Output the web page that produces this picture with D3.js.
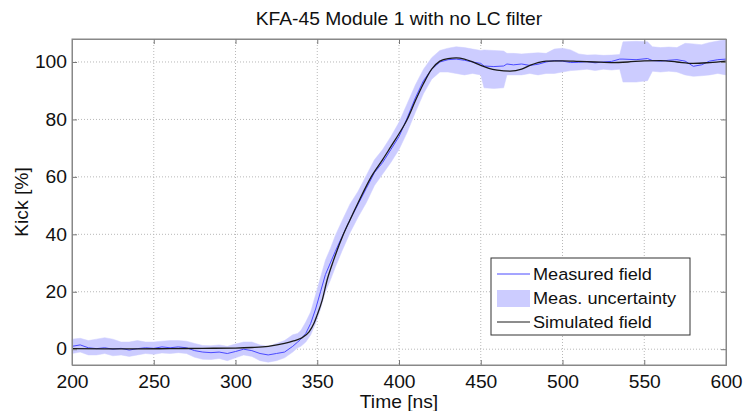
<!DOCTYPE html>
<html>
<head>
<meta charset="utf-8">
<script src="https://cdn.jsdelivr.net/npm/d3@7"></script>
<style>
  body { margin: 0; background: #fff; }
  text { font-family: "Liberation Sans", Arial, sans-serif; fill: #111; }
</style>
</head>
<body>
<script>
// simulated field (smooth)
const simT = [200, 220, 240, 260, 280, 300, 310, 320, 330, 335, 340, 345, 348, 350, 353, 356, 360, 366, 370, 375, 383, 390, 395, 400, 405, 410, 415, 420, 425, 430, 435, 440, 445, 450, 455, 460, 468, 475, 480, 485, 490, 500, 510, 520, 530, 540, 550, 560, 570, 580, 590, 600];
const simV = [0.2, 0.1, 0.1, 0.2, 0.3, 0.4, 0.6, 1.0, 2.0, 2.8, 3.8, 6, 9, 12, 17, 24, 31, 40, 45, 51, 60, 66, 70.5, 75, 80, 86.5, 92.5, 97.5, 100.3, 101.2, 101.4, 101, 100, 98.8, 97.8, 97.2, 96.8, 97.5, 98.8, 99.8, 100.3, 100.4, 100.2, 100, 99.8, 100, 100.4, 100.5, 100, 99.5, 99.8, 100.3];

// measured field and uncertainty band
const measT = [200, 205, 210, 215, 220, 225, 230, 235, 240, 245, 250, 255, 260, 265, 270, 275, 280, 285, 290, 295, 300, 305, 310, 315, 320, 325, 330, 335, 338, 340, 343, 346, 349, 352, 355, 358, 361, 365, 370, 375, 380, 385, 390, 395, 400, 405, 410, 415, 420, 425, 430, 435, 440, 445, 450, 452, 458, 464, 466, 470, 475, 480, 485, 490, 495, 500, 505, 510, 515, 520, 525, 530, 535, 537, 545, 552, 555, 560, 565, 570, 575, 580, 585, 590, 595, 600];
const measV = [1.0, 1.5, 0.5, 0.2, 0.5, 0.0, 0.3, -0.3, 0.2, 0.5, 0.3, 0.8, 0.5, 0.8, 0.5, -0.5, -1.0, -1.2, -1.0, -1.5, -0.8, 0.0, -0.5, -1.5, -2.0, -1.5, -1.0, 1.0, 2.5, 3.5, 5.5, 9.0, 14.0, 20.0, 26.0, 30.0, 34.0, 39.0, 45.0, 50.5, 56.0, 61.5, 65.0, 69.5, 74.0, 80.5, 87.5, 93.5, 97.5, 100.0, 100.8, 101.0, 100.6, 100.0, 99.5, 98.6, 98.4, 98.6, 99.3, 99.0, 99.3, 98.8, 99.2, 100.0, 100.5, 100.3, 99.8, 99.9, 100.1, 99.7, 100.0, 100.2, 101.0, 101.0, 100.8, 101.2, 100.5, 100.3, 100.6, 100.8, 100.3, 98.5, 99.0, 100.3, 100.8, 101.0];
const measLo = [-1.5, -1.0, -2.0, -2.0, -1.5, -2.3, -2.0, -2.5, -2.0, -1.5, -1.8, -1.3, -1.5, -1.2, -1.5, -2.8, -3.5, -3.6, -3.2, -4.0, -3.0, -2.0, -2.5, -4.0, -4.5, -4.0, -3.0, -1.0, 0.5, 1.0, 2.5, 5.0, 9.0, 14.0, 20.0, 24.0, 28.5, 34.0, 40.5, 46.0, 51.0, 57.0, 61.0, 65.0, 69.5, 75.5, 82.5, 89.0, 94.0, 96.5, 96.5, 96.0, 95.5, 96.0, 95.5, 91.0, 90.8, 91.0, 95.5, 95.5, 95.5, 96.0, 95.5, 96.0, 96.0, 96.5, 97.0, 97.2, 97.5, 97.0, 97.5, 97.2, 97.5, 93.0, 93.0, 93.5, 96.8, 96.5, 96.8, 96.5, 95.5, 95.0, 95.2, 95.5, 96.0, 95.5];
const measHi = [3.5, 3.8, 3.0, 3.5, 4.0, 3.5, 2.5, 2.5, 3.0, 2.5, 2.5, 2.8, 3.0, 3.0, 2.8, 2.0, 1.3, 1.2, 1.5, 1.0, 1.8, 2.5, 2.5, 1.5, 1.0, 2.0, 3.0, 5.0, 5.5, 6.5, 9.5, 13.0, 19.0, 25.0, 31.0, 35.0, 39.5, 44.5, 50.5, 55.0, 60.5, 66.0, 69.5, 74.0, 79.0, 85.5, 92.0, 97.5, 101.5, 104.0, 104.8, 105.3, 105.0, 104.5, 104.0, 104.2, 104.0, 103.8, 103.0, 103.0, 102.8, 103.0, 103.2, 103.0, 104.5, 104.8, 104.2, 102.8, 102.4, 102.5, 102.3, 102.4, 102.6, 107.0, 107.2, 107.0, 105.3, 105.0, 105.2, 105.0, 106.5, 106.3, 106.0, 106.8, 107.3, 107.8];

const xTicks = [200, 250, 300, 350, 400, 450, 500, 550, 600];
const yTicks = [0, 20, 40, 60, 80, 100];
const legendLabels = ["Measured field", "Meas. uncertainty", "Simulated field"];

const W = 744, H = 411;
const margin = { top: 39, right: 18, bottom: 46, left: 72 };
const width = W - margin.left - margin.right;
const height = H - margin.top - margin.bottom;
const FONT = "Liberation Sans, Arial, sans-serif";

const svg = d3.select("body").append("svg")
  .attr("width", W)
  .attr("height", H);

const g = svg.append("g")
  .attr("transform", "translate(" + margin.left + "," + margin.top + ")");

const x = d3.scaleLinear().domain([200, 600]).range([0, width]);
const y = d3.scaleLinear().domain([-5.5, 108]).range([height, 0]);

// text drawn slightly wide, like the reference export
function label(parent, px, py, txt, size, anchor, rot) {
  const t = parent.append("g")
    .attr("transform", "translate(" + px + "," + py + ")" + (rot ? " rotate(" + rot + ")" : "") + " scale(1.1,1)")
    .append("text")
    .attr("text-anchor", anchor)
    .style("font-size", size + "px")
    .text(txt);
  return t;
}

// grid
g.append("g").selectAll("line").data(xTicks.slice(1, -1)).join("line")
  .attr("x1", d => x(d)).attr("x2", d => x(d))
  .attr("y1", 0).attr("y2", height)
  .attr("stroke", "#b8b8b8").attr("stroke-dasharray", "1,2");
g.append("g").selectAll("line").data(yTicks).join("line")
  .attr("x1", 0).attr("x2", width)
  .attr("y1", d => y(d)).attr("y2", d => y(d))
  .attr("stroke", "#b8b8b8").attr("stroke-dasharray", "1,2");

// data
const band = measT.map((t, i) => ({ t: t, lo: measLo[i], hi: measHi[i] }));
g.append("path").datum(band)
  .attr("fill", "#ccccff").attr("stroke", "#ccccff").attr("stroke-width", 0.5)
  .attr("d", d3.area().x(d => x(d.t)).y0(d => y(d.lo)).y1(d => y(d.hi)));

g.append("path").datum(measT.map((t, i) => [t, measV[i]]))
  .attr("fill", "none").attr("stroke", "#4a4aff").attr("stroke-width", 1)
  .attr("d", d3.line().x(d => x(d[0])).y(d => y(d[1])));

g.append("path").datum(simT.map((t, i) => [t, simV[i]]))
  .attr("fill", "none").attr("stroke", "#1a1a1a").attr("stroke-width", 1.3)
  .attr("d", d3.line().curve(d3.curveMonotoneX).x(d => x(d[0])).y(d => y(d[1])));

// axes (MATLAB style: ticks inside, on all sides)
const axB = g.append("g").attr("transform", "translate(0," + height + ")")
  .call(d3.axisBottom(x).tickValues(xTicks).tickSize(-5).tickPadding(10));
const axT = g.append("g")
  .call(d3.axisTop(x).tickValues(xTicks).tickSize(-5).tickFormat(""));
const axL = g.append("g")
  .call(d3.axisLeft(y).tickValues(yTicks).tickSize(-5).tickPadding(5));
const axR = g.append("g").attr("transform", "translate(" + width + ",0)")
  .call(d3.axisRight(y).tickValues(yTicks).tickSize(-5).tickFormat(""));
[axB, axT, axL, axR].forEach(a => {
  a.selectAll(".domain").attr("stroke", "#888").attr("stroke-width", 1);
  a.selectAll(".tick line").attr("stroke", "#777");
  a.selectAll("text").style("font-size", "18px").style("font-family", FONT).attr("fill", "#111");
});
axB.selectAll("text").attr("transform", "scale(1.07,1)");
axL.selectAll("text").attr("x", -5 / 1.07).attr("transform", "scale(1.07,1)");
g.append("rect").attr("width", width).attr("height", height)
  .attr("fill", "none").attr("stroke", "#888");

// labels
label(svg, margin.left + width / 2, 25, "KFA-45 Module 1 with no LC filter", 17.5, "middle");
label(svg, margin.left + width / 2, 408, "Time [ns]", 17.5, "middle");
label(svg, 28, margin.top + height / 2, "Kick [%]", 17.5, "middle", -90);

// legend
const lg = svg.append("g").attr("transform", "translate(491,258)");
lg.append("rect").attr("width", 199).attr("height", 77)
  .attr("fill", "#fff").attr("stroke", "#333");
const rowY = [16, 40, 64];
lg.append("line").attr("x1", 6).attr("x2", 39).attr("y1", rowY[0]).attr("y2", rowY[0])
  .attr("stroke", "#4a4aff");
lg.append("rect").attr("x", 6).attr("y", rowY[1] - 8).attr("width", 33).attr("height", 17)
  .attr("fill", "#ccccff");
lg.append("line").attr("x1", 6).attr("x2", 39).attr("y1", rowY[2]).attr("y2", rowY[2])
  .attr("stroke", "#1a1a1a");
legendLabels.forEach((d, i) => {
  label(lg, 42, rowY[i] + 6, d, 16.5, "start");
});
</script>
</body>
</html>
